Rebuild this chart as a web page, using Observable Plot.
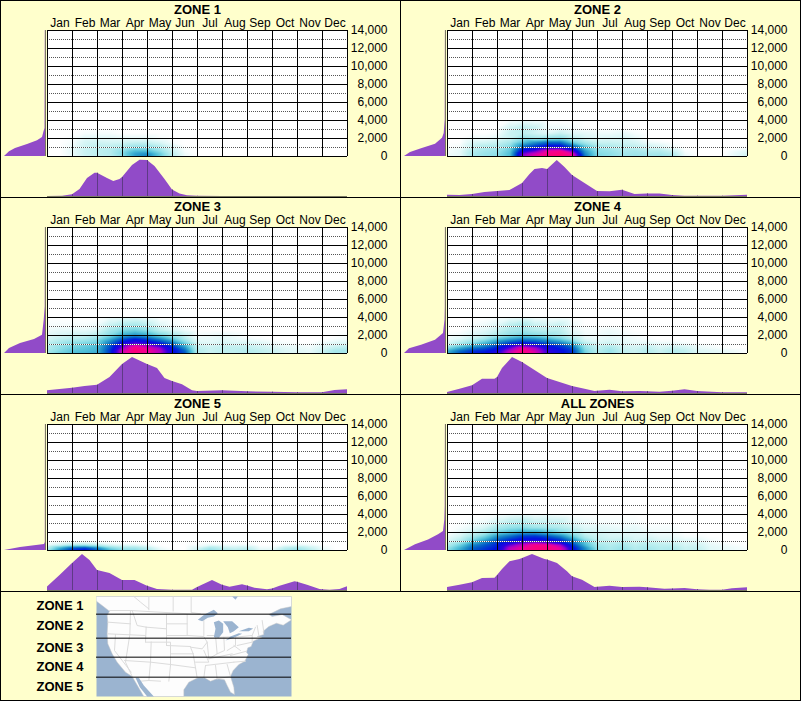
<!DOCTYPE html>
<html><head><meta charset="utf-8">
<script src="https://cdn.jsdelivr.net/npm/d3@7"></script>
<script src="https://cdn.jsdelivr.net/npm/@observablehq/plot@0.6"></script>
<style>
html,body{margin:0;padding:0;background:#FFFFCC;width:801px;height:701px;overflow:hidden}
#page{position:relative;width:801px;height:701px;font-family:"Liberation Sans",Arial,sans-serif}
#page svg{position:absolute;overflow:visible;max-width:none}
.bar{position:absolute;background:#000}
</style></head><body><div id="page"></div>
<script>
const zoneNames = ["ZONE 1","ZONE 2","ZONE 3","ZONE 4","ZONE 5","ALL ZONES"];
const months = ["Jan","Feb","Mar","Apr","May","Jun","Jul","Aug","Sep","Oct","Nov","Dec"];
const elevationTicks = [0,2000,4000,6000,8000,10000,12000,14000];
const dottedTicks = [1000,3000,5000,7000,9000,11000,13000];
const monthEdges = [0,1,2,3,4,5,6,7,8,9,10,11,12];
const monthCenters = [.5,1.5,2.5,3.5,4.5,5.5,6.5,7.5,8.5,9.5,10.5,11.5];

// heat map samples: columns each half month, rows at these elevations
const sampleMonths = [0,.5,1,1.5,2,2.5,3,3.5,4,4.5,5,5.5,6,6.5,7,7.5,8,8.5,9,9.5,10,10.5,11,11.5,12];
const sampleElev = [0,300,600,900,1200,1600,2000,2600,3200,4000];

const heat1 = [
[0,0,2,7,9,11,20,36,42,26,10,2,0,0,0,0,0,0,0,0,0,0,0,0,0],
[0,0,3,8,10,12,22,36,40,26,10,2,0,0,0,0,0,0,0,0,0,0,0,0,0],
[0,0,3,8,10,12,20,30,30,20,8,1,0,0,0,0,0,0,0,0,0,0,0,0,0],
[0,0,3,8,10,11,15,22,22,15,6,1,0,0,0,0,0,0,0,0,0,0,0,0,0],
[0,0,2,7,9,9,11,15,15,10,4,0,0,0,0,0,0,0,0,0,0,0,0,0,0],
[0,0,1,6,7,6,6,8,8,5,1,0,0,0,0,0,0,0,0,0,0,0,0,0,0],
[0,0,1,4,4,4,3,3,3,1,0,0,0,0,0,0,0,0,0,0,0,0,0,0,0],
[0,0,0,1,1,1,0,0,0,0,0,0,0,0,0,0,0,0,0,0,0,0,0,0,0],
[0,0,0,0,0,0,0,0,0,0,0,0,0,0,0,0,0,0,0,0,0,0,0,0,0],
[0,0,0,0,0,0,0,0,0,0,0,0,0,0,0,0,0,0,0,0,0,0,0,0,0]];
const heat2 = [
[2,3,14,18,20,30,78,88,96,100,92,45,22,20,16,18,16,18,14,3,0,0,0,3,8],
[2,3,14,18,20,30,75,85,95,98,88,42,22,20,16,16,15,15,12,2,0,0,0,3,6],
[1,3,12,16,18,28,65,74,90,94,74,38,20,18,14,15,12,12,8,1,0,0,0,2,4],
[1,2,10,14,15,25,55,62,72,72,60,30,18,15,12,12,9,8,4,0,0,0,0,0,1],
[0,1,8,11,12,20,42,52,60,60,45,25,14,12,10,9,6,4,1,0,0,0,0,0,0],
[0,0,5,6,8,14,28,38,45,45,25,14,8,8,7,6,2,1,0,0,0,0,0,0,0],
[0,0,2,2,4,8,18,15,18,20,10,6,4,5,6,3,0,0,0,0,0,0,0,0,0],
[0,0,0,0,1,8,10,7,4,8,4,3,2,2,3,1,0,0,0,0,0,0,0,0,0],
[0,0,0,0,0,6,10,8,2,2,1,0,0,0,0,0,0,0,0,0,0,0,0,0,0],
[0,0,0,0,0,1,2,1,0,0,0,0,0,0,0,0,0,0,0,0,0,0,0,0,0]];
const heat3 = [
[15,25,30,32,35,55,85,98,90,80,62,50,12,8,10,10,12,10,8,5,4,3,8,15,15],
[15,22,28,30,33,55,85,98,92,82,62,48,12,8,10,10,12,10,8,5,4,3,8,15,15],
[12,20,25,28,32,52,78,96,88,78,60,40,10,8,10,10,10,8,6,4,3,2,6,10,12],
[12,18,22,25,30,50,72,86,78,68,52,32,8,6,8,8,8,6,4,2,2,1,4,6,8],
[10,15,20,22,25,44,62,70,64,56,44,24,5,4,6,5,5,4,2,1,0,0,2,4,4],
[6,10,12,15,20,34,50,58,52,42,28,14,3,3,4,3,2,1,0,0,0,0,0,1,2],
[4,6,8,8,12,22,35,40,35,25,15,8,1,2,3,2,0,0,0,0,0,0,0,0,1],
[2,3,3,3,5,15,22,25,20,10,5,2,0,0,0,0,0,0,0,0,0,0,0,0,0],
[1,1,1,1,2,8,12,14,10,4,1,0,0,0,0,0,0,0,0,0,0,0,0,0,0],
[0,0,0,0,0,2,3,4,2,0,0,0,0,0,0,0,0,0,0,0,0,0,0,0,0]];
const heat4 = [
[35,50,58,60,68,85,98,88,70,62,55,25,12,18,10,8,12,8,12,10,5,4,3,2,0],
[32,46,55,58,65,82,96,85,70,62,55,24,12,18,10,8,12,8,12,10,5,4,3,2,0],
[22,35,45,50,60,74,90,80,66,58,50,20,10,15,8,7,10,6,9,7,3,2,1,0,0],
[12,22,32,40,52,64,74,68,60,54,42,16,8,10,6,5,7,4,5,4,2,1,0,0,0],
[5,12,20,30,42,52,58,55,48,42,30,10,5,7,4,3,3,2,2,1,0,0,0,0,0],
[2,5,10,18,28,36,42,40,34,26,15,5,3,4,3,2,1,0,0,0,0,0,0,0,0],
[1,2,5,8,14,20,25,22,18,14,6,2,2,3,2,1,0,0,0,0,0,0,0,0,0],
[0,0,2,4,8,14,16,12,10,10,3,1,1,2,1,0,0,0,0,0,0,0,0,0,0],
[0,0,1,2,4,10,14,8,6,8,2,0,0,0,0,0,0,0,0,0,0,0,0,0,0],
[0,0,0,0,1,2,3,1,1,1,0,0,0,0,0,0,0,0,0,0,0,0,0,0,0]];
const heat5 = [
[15,42,58,62,50,32,22,22,15,4,1,0,8,20,14,12,14,4,4,15,20,12,4,0,0],
[10,32,48,52,40,22,15,15,10,2,0,0,5,14,9,7,9,2,2,10,14,8,2,0,0],
[2,8,14,16,12,6,4,4,2,0,0,0,1,3,2,2,2,0,0,2,3,2,0,0,0],
[0,1,2,2,1,0,0,0,0,0,0,0,0,0,0,0,0,0,0,0,0,0,0,0,0],
[0,0,0,0,0,0,0,0,0,0,0,0,0,0,0,0,0,0,0,0,0,0,0,0,0],
[0,0,0,0,0,0,0,0,0,0,0,0,0,0,0,0,0,0,0,0,0,0,0,0,0],
[0,0,0,0,0,0,0,0,0,0,0,0,0,0,0,0,0,0,0,0,0,0,0,0,0],
[0,0,0,0,0,0,0,0,0,0,0,0,0,0,0,0,0,0,0,0,0,0,0,0,0],
[0,0,0,0,0,0,0,0,0,0,0,0,0,0,0,0,0,0,0,0,0,0,0,0,0],
[0,0,0,0,0,0,0,0,0,0,0,0,0,0,0,0,0,0,0,0,0,0,0,0,0]];
const heatAll = [
[20,35,50,56,62,84,90,97,98,90,64,42,20,14,20,12,16,12,14,8,10,4,3,2,1],
[18,32,48,54,60,82,90,96,96,88,62,40,18,14,18,12,15,12,13,8,9,4,3,2,1],
[12,25,42,50,58,74,84,94,92,80,56,32,15,12,15,10,12,10,10,6,7,3,2,1,0],
[8,16,32,44,55,64,72,76,72,64,48,28,12,10,12,8,10,8,7,5,5,2,1,0,0],
[4,10,22,34,48,56,62,62,60,55,40,20,10,8,9,6,8,5,5,3,3,1,0,0,0],
[2,6,14,24,38,46,54,55,50,42,26,12,8,6,6,5,5,3,3,1,1,0,0,0,0],
[0,3,8,14,24,30,36,36,30,22,14,7,6,5,4,4,3,2,2,0,0,0,0,0,0],
[0,1,3,6,14,18,20,16,14,12,8,4,4,3,2,3,1,1,1,0,0,0,0,0,0],
[0,0,1,2,6,10,12,8,8,8,3,2,1,1,1,1,0,0,0,0,0,0,0,0,0],
[0,0,0,0,1,2,3,1,2,1,0,0,0,0,0,0,0,0,0,0,0,0,0,0,0]];
const heatTables = [heat1,heat2,heat3,heat4,heat5,heatAll];
const heatDomain = [0,3,10,20,30,40,50,60,70,80,90,100];
const heatColors = ["#FFFFFF","#E8FAFA","#C0F0F0","#90E0E8","#50C0D8","#1F90C8","#0058C8","#0010E0","#3000E0","#A800C8","#F00098","#FF0070"];

// elevation profile (left of each panel)
const leftElev1 = [0,520,890,1330,1740,2110,2740,3100,14000];
const leftSize1 = [41,36,30,18,8,3,1.5,.5,.2];
const leftElev2 = [0,440,850,1370,2030,2560,4070,14000];
const leftSize2 = [41,35,24,10,3,1.3,.3,.1];
const leftElev3 = [0,550,1110,1550,2030,3700,5200,14000];
const leftSize3 = [41,36,25,11,3,1.3,.3,.1];
const leftElev4 = [0,520,925,1480,2220,3700,5200,14000];
const leftSize4 = [41,36,24,10,2,.5,.2,.1];
const leftElev5 = [0,330,520,670,900,14000];
const leftSize5 = [41,25,11,1,.2,.1];
const leftElevAll = [0,630,1180,1740,2110,3400,4890,14000];
const leftSizeAll = [41,30,17,7,2,.7,.3,.1];
const leftElevs = [leftElev1,leftElev2,leftElev3,leftElev4,leftElev5,leftElevAll];
const leftSizes = [leftSize1,leftSize2,leftSize3,leftSize4,leftSize5,leftSizeAll];

// month profile (below each panel)
const botMonth1 = [0,.6,1,1.3,1.6,1.9,2,2.4,2.65,2.9,3,3.4,3.7,4,4.3,4.7,5,5.3,5.6,6,7,8,9,10,11,12];
const botSize1 = [0,.2,1.7,7,18,23.3,23.3,18,15,17,19,31,36.3,36,30,17,6.5,2.5,.8,.2,0,0,0,0,0,0];
const botMonth2 = [0,.5,1,1.5,2,2.5,3,3.3,3.5,3.8,4,4.39,4.7,5,5.5,6,6.5,7,7.5,8,8.5,9,9.5,10,11,11.5,12];
const botSize2 = [1.3,1,2,4,5,6,13,22,27,28,27,36,29,21,13,5,4.7,6.3,2,2.6,2.6,1,.3,.3,.3,.7,1.3];
const botMonth3 = [0,1,1.5,2,2.5,3,3.4,4,4.4,4.7,5,5.4,5.8,6,7,8,9,10,11,11.5,12];
const botSize3 = [2.7,5.3,7,8.3,16,29,36,29,25,15,12,8.7,2.7,2,2.7,1.7,1.3,.7,.7,3,3.7];
const botMonth4 = [0,.5,1,1.4,1.9,2,2.2,2.6,3,3.5,4,4.5,5,5.5,5.9,6,6.5,7,7.7,8,8.5,9,9.5,10,11,12];
const botSize4 = [1,4.3,7.7,14.3,14.3,16,25,36,31,23,15,11,7,4.3,2,2.2,3.3,1.7,2,1.8,1.3,2.2,3.7,2,.7,.7];
const botMonth5 = [0,.5,1,1.4,1.7,2,2.5,3,3.5,4,4.4,5,5.8,6,6.6,7,7.3,7.8,8,8.3,8.8,9,9.3,9.9,10,10.4,10.9,11,11.3,11.7,12];
const botSize5 = [3.5,15,27,36,30,20,17,10,10,4.3,1,.3,.3,3,10,5.3,3.3,5.7,4.5,2.3,.7,1.5,4.3,8.7,8.2,5.3,1,.7,.3,1,3.7];
const botMonthAll = [0,.5,1,1.4,1.9,2,2.2,2.5,2.9,3,3.4,3.9,4,4.4,4.8,5,5.4,5.9,6,6.5,7,7.7,8,8.7,9,9.5,10,10.5,11,11.4,12];
const botSizeAll = [3,5.3,7.7,12,12.3,15,21,28.7,31,32,36,31,30.5,27,18.7,13.7,10.3,3,3.2,4.3,3,3.3,2.7,1.3,1.5,2,.8,.3,.3,1.7,2.7];
const botMonths = [botMonth1,botMonth2,botMonth3,botMonth4,botMonth5,botMonthAll];
const botSizes = [botSize1,botSize2,botSize3,botSize4,botSize5,botSizeAll];

// locator map, in image units of the small map
const mapLand = [[288,18],[873,18],[873,48],[840,55],[805,72],[815,78],[845,72],[873,88],[848,104],[828,98],[805,108],[788,122],[790,132],[770,138],[785,140],[758,152],[752,168],[742,172],[738,185],[743,192],[733,212],[715,222],[698,240],[690,258],[700,290],[702,312],[690,305],[680,285],[672,268],[650,265],[630,272],[612,262],[592,262],[565,275],[550,298],[550,318],[430,318],[395,258],[375,245],[350,215],[335,190],[322,160],[320,130],[322,95],[320,75],[327,62],[305,45],[288,32]];
const mapWater = [
[[405,262],[415,262],[430,285],[460,318],[440,318],[418,290]],
[[592,88],[612,72],[640,58],[652,68],[640,78],[622,82],[605,92]],
[[640,95],[655,90],[668,100],[668,125],[655,142],[640,140],[645,115]],
[[668,92],[695,92],[715,110],[700,122],[688,128],[682,110]],
[[675,150],[690,138],[715,128],[725,130],[700,142]],
[[715,122],[745,112],[758,114],[745,122]],
[[695,18],[712,18],[705,28]]];
const mapBorders = [
[[400,18],[420,35],[445,55]],[[445,18],[445,58]],[[518,18],[518,62]],[[572,18],[572,66],[600,70]],
[[327,60],[390,60],[600,72],[625,72]],
[[322,95],[390,100]],[[390,60],[388,132]],[[322,130],[435,135]],
[[395,60],[410,105],[437,110]],[[437,110],[498,115],[498,165]],[[437,110],[435,155],[452,155]],
[[345,132],[342,180],[392,245]],[[388,132],[375,215],[395,258]],
[[435,135],[435,155]],[[452,155],[450,215],[372,210]],[[452,155],[510,155],[510,225]],[[450,215],[510,222]],
[[450,215],[445,270],[480,272]],[[420,272],[445,270]],
[[510,225],[505,272]],[[510,222],[585,232],[590,262]],[[510,190],[578,190]],[[498,165],[570,168]],
[[498,72],[498,115]],[[498,100],[560,100]],[[498,135],[565,135]],[[560,72],[560,135]],
[[565,135],[610,138],[620,155],[605,175],[570,170],[578,190]],[[578,190],[585,232]],[[585,215],[625,215],[610,180]],
[[610,85],[610,135]],[[620,135],[645,135],[650,190],[625,205],[620,155]],[[650,140],[670,140],[672,180],[650,190]],
[[670,140],[705,138],[705,165],[680,180]],[[625,205],[695,190]],[[615,225],[700,215]],[[615,225],[610,262]],
[[645,225],[650,265]],[[680,222],[690,258]],[[650,265],[690,258]],[[700,215],[735,212]],[[690,195],[738,182]],
[[705,140],[755,135],[755,155],[710,165]],[[755,135],[765,110]],[[770,105],[775,135]],[[785,90],[790,125]],[[700,165],[720,180]]
];
const mapZoneLines = [71,143,200,260];
const legendY = [47,105,172,230,289];

const font = {fontFamily:"'Liberation Sans',Arial,sans-serif",fontSize:"12px",background:"transparent",color:"#000",overflow:"visible"};
const purple = "#914BC8", rib = "#5E3A85", baseGrey = "#7A7A62";
const page = document.getElementById("page");
const grouped = d3.format(",");
function put(svg,left,top){svg.style.left=left+"px";svg.style.top=top+"px";page.appendChild(svg);}

zoneNames.forEach((name,z)=>{
  const px = z%2*400, py = Math.floor(z/2)*197;
  const samples = heatTables[z].flatMap((row,r)=>row.map((v,c)=>({m:sampleMonths[c],e:sampleElev[r],v})));
  const main = Plot.plot({
    width:400,height:197,marginLeft:47,marginRight:53,marginTop:30,marginBottom:41,style:font,
    x:{domain:[0,12]},y:{domain:[0,14000]},
    color:{type:"linear",domain:heatDomain,range:heatColors,clamp:true},
    marks:[
      Plot.frame({fill:"white",stroke:"none"}),
      Plot.raster(samples,{x:"m",y:"e",fill:"v",x1:0,x2:12,y1:0,y2:4000,interpolate:"barycentric",pixelSize:1}),
      Plot.ruleY(dottedTicks,{stroke:"white"}),
      Plot.ruleY(dottedTicks,{stroke:"#555",strokeDasharray:"1,1"}),
      Plot.ruleY(elevationTicks,{stroke:"black"}),
      Plot.ruleX(monthEdges,{stroke:"black"}),
      Plot.axisX(monthCenters,{anchor:"top",tickSize:0,tickPadding:4,label:null,fontSize:12,tickFormat:d=>months[Math.floor(d)]}),
      Plot.axisY(elevationTicks,{anchor:"right",tickSize:0,tickPadding:40,textAnchor:"end",label:null,fontSize:12,tickFormat:d=>grouped(d)}),
      Plot.text([name],{frameAnchor:"top",dy:-26,fontWeight:"bold",fontSize:13})
    ]});
  put(main,px,py);
  const left = Plot.plot({
    width:47,height:197,marginLeft:4,marginRight:2,marginTop:30,marginBottom:41,style:font,
    x:{domain:[41,0],axis:null},y:{domain:[0,14000],axis:null},
    marks:[
      Plot.areaX(leftElevs[z],{y:d=>d,x:(d,i)=>leftSizes[z][i],fill:purple}),
      Plot.ruleX([0],{stroke:baseGrey})
    ]});
  put(left,px,py);
  const bottom = Plot.plot({
    width:400,height:197,marginLeft:47,marginRight:53,marginTop:159,marginBottom:1,style:font,
    x:{domain:[0,12],axis:null},y:{domain:[0,37],axis:null},
    marks:[
      Plot.areaY(botMonths[z],{x:d=>d,y:(d,i)=>botSizes[z][i],fill:purple}),
      Plot.ruleX(botMonths[z].map((m,i)=>({m,h:botSizes[z][i]})).filter(d=>Number.isInteger(d.m)&&d.m>0&&d.m<12),{x:"m",y1:0,y2:"h",stroke:rib}),
      Plot.ruleY([0],{stroke:baseGrey})
    ]});
  put(bottom,px,py);
});

const poly = ls => ls.flatMap((l,i)=>l.map(p=>({x:p[0],y:p[1],i})));
const mapPlot = Plot.plot({
  width:300,height:108,marginLeft:96,marginRight:9,marginTop:4,marginBottom:4,style:font,
  x:{domain:[288,873],axis:null},y:{domain:[318,18],axis:null},
  marks:[
    Plot.frame({fill:"#9BB4D0",stroke:"none"}),
    Plot.line(poly([mapLand]),{x:"x",y:"y",z:"i",fill:"#FDFDFD",stroke:"#C8C8C8",strokeWidth:.5}),
    Plot.line(poly(mapBorders),{x:"x",y:"y",z:"i",stroke:"#DCDCDC",strokeWidth:1}),
    Plot.line(poly(mapWater),{x:"x",y:"y",z:"i",fill:"#9BB4D0",stroke:"none"}),
    Plot.ruleY(mapZoneLines,{stroke:"black"}),
    Plot.text(zoneNames.slice(0,5),{x:()=>249,y:(d,i)=>legendY[i],textAnchor:"end",fontWeight:"bold",fontSize:13})
  ]});
put(mapPlot,0,592);

[[0,0,801,1],[0,700,801,1],[0,0,1,701],[800,0,1,701],[0,197,801,1],[0,394,801,1],[0,591,801,1],[400,0,1,591]].forEach(([l,t,w,h])=>{
  const d=document.createElement("div");d.className="bar";
  d.style.cssText=`left:${l}px;top:${t}px;width:${w}px;height:${h}px`;page.appendChild(d);
});
</script></body></html>
